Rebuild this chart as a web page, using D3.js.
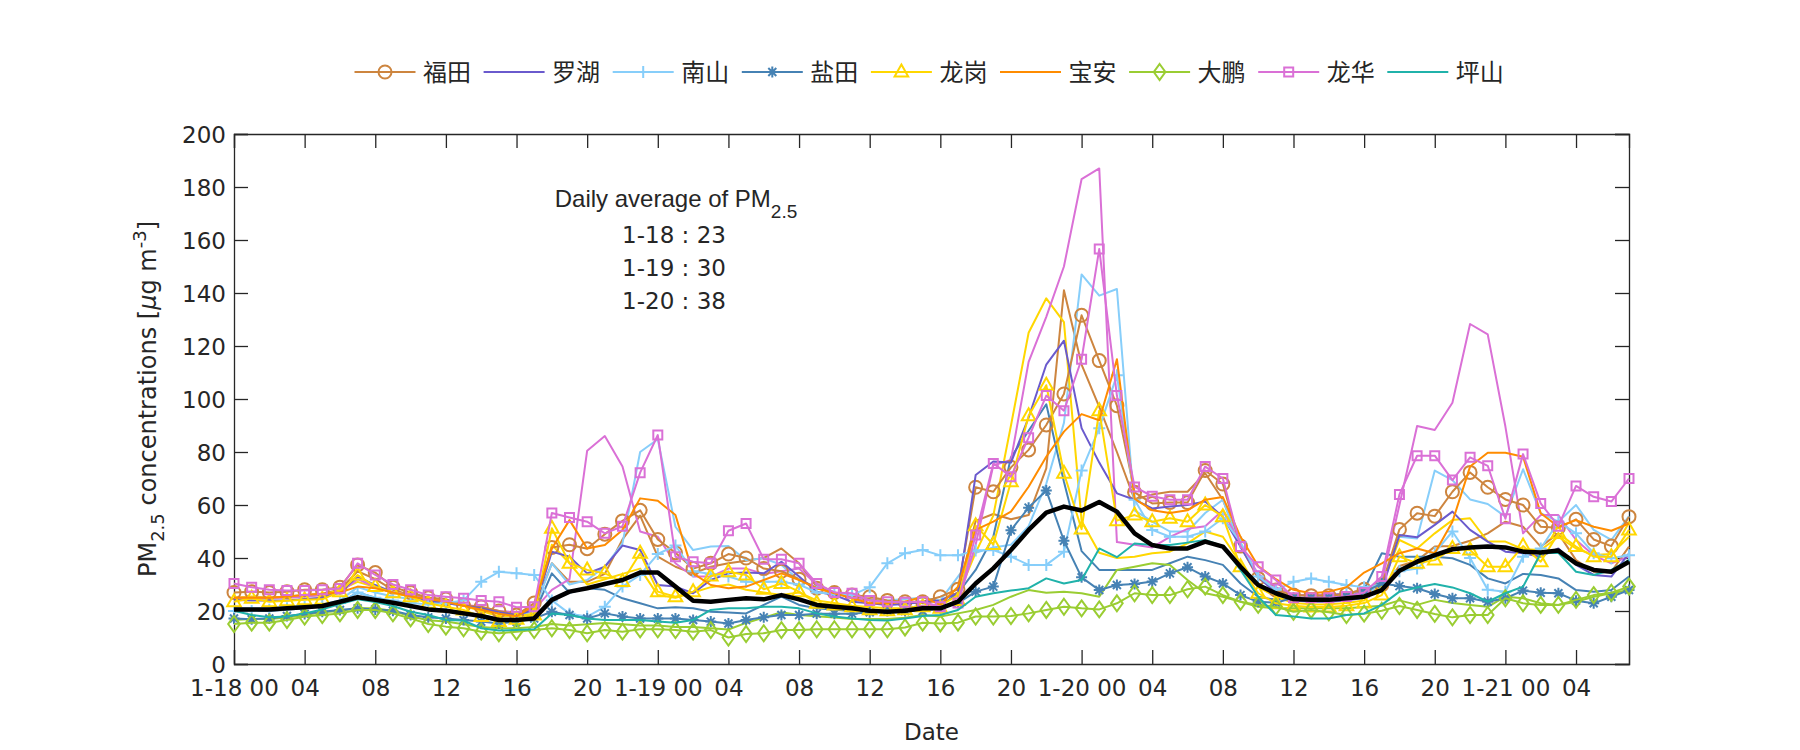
<!DOCTYPE html>
<html><head><meta charset="utf-8">
<script src="https://cdn.jsdelivr.net/npm/d3@7"></script>
<style>
body{margin:0;background:#fff}
svg{display:block}
text{fill:#262626}
</style>
</head><body><svg id="c" width="1800" height="750"></svg>
<script>
// ---------- data ----------
const hours = d3.range(0, 80);
const xTickValues = d3.range(0, 80, 4);
const xTickLabels = ["1-18 00","04","08","12","16","20","1-19 00","04","08","12","16","20","1-20 00","04","08","12","16","20","1-21 00","04"];
const yTickValues = d3.range(0, 201, 20);
const legendNames = ["福田","罗湖","南山","盐田","龙岗","宝安","大鹏","龙华","坪山"];
const dailyLines = ["1-18 : 23","1-19 : 30","1-20 : 38"];

const FT  = [27,27.3,27,27.3,28,28,29,37.4,34.5,29,27,25,24.5,22,21.6,20,18.5,23,
  44,45,43.5,49,54,58,47,42,36,38,41.5,40,36,35,32,28.6,27,26,25.4,24,23.5,23.5,
  25.4,28.2,66.7,65,74.2,80.8,90.2,101.9,131.6,114.5,97.5,64.8,60.6,60.9,60.9,73,67.9,44.5,32.3,27.9,
  26,25.8,25.8,26.4,28.2,29.8,50.8,56.9,55.8,65,72.3,66.7,62.1,60,51.8,51.4,54.6,47,44.5,55.6];
const FT2 = [25,25,25,25.5,26,26.5,28,35,32,28,26,24.5,23.5,22,21,19.5,18,21,
  38,31,31,34,47,56,40.5,36.7,34.2,36.7,38,39,40,43.6,38,29.2,26.7,25.5,24.5,23.5,23,23,
  24,27,54,56.6,54.6,56.2,73.8,141,113,97,80,62,64,65,65,72,62,45,33,28,
  25,25,25,25.5,26,28,37,39,44.3,44.5,46.5,49.3,53.7,51.8,44.3,49.3,39.2,34.8,34.8,44.3];
const LH  = [24.2,24,24,24,24.5,25,27,33,29.8,27,25.5,24,23,22,21,19.5,18.5,20.5,
  42.4,40.5,34.2,36.7,44.7,43,29.8,29.2,26.7,31.7,34.2,34.5,34.2,38.6,33,27.3,26,23.5,22.9,22.3,22.6,23.5,
  24,26.7,71.3,76.4,76,93,113,122,89,76,64.4,62,58.7,59.4,60,61.3,55.6,44.3,33,26.7,
  24,23.5,23.5,24,25,28,48.7,47.8,52.5,57.5,50.6,46.2,42.4,41.8,40.5,43.6,37.4,33.6,33,41.8];
const NS  = [20,20,20.5,21,21.5,22,23,27,25,24,23,22.5,23,24,31,34.8,34.2,33.6,
  24,19,17.9,21.6,29.2,33.6,41.5,44.7,35,34,33,31,31,31,30,27,26.5,26,29,38,41.8,43,
  41,41,42.8,43,40.5,37.4,37.4,42.4,73,89,109,62,50.6,48,48,50,55,46,33,28,
  31,32.3,31,29.8,29,30,35,36,42,50,40,28,27.3,40.5,43.6,53.7,49.3,41.8,39.9,41];
const NS2 = [21,21,21,21.5,22,22.5,24,29,27,25.5,24.5,23.5,23,22,21,19.5,18,20,
  38,30,31.7,36.7,45.5,80,84.8,51.8,43,44.3,44.5,39.2,39.9,37.4,31.7,29,27,25,24,24,24.5,25,
  24,33,42,44,45,52,68,91,147,139,141.5,58,53.7,50,50,57,62,44,33,28,
  26,26,26,26.5,27,29,48,47.4,73,69.4,62.1,60.4,55.6,73.5,56.9,53.7,60,50.6,46.8,55.8];
const YT  = [17.2,16.9,17.2,18.1,18.9,19.7,20.4,21,20.6,20.1,18.5,17.6,17.2,16.6,16,15.3,16,17.2,
  19.7,18.5,17.2,19.1,17.9,17.2,17.2,17.2,16.6,16,15.3,16.6,17.6,18.5,18.5,19,19,19,19.5,20,20,20,
  21,23,27.3,29.2,50.5,59,65.5,46.5,32.7,27.9,29.8,30.2,31.1,34.2,36.5,33,30.4,26,23.5,23.1,
  25,25,25,25.5,27,30.4,29.4,28.6,26.4,24.8,24.8,23.5,24.8,27.7,26.9,26.7,23.9,22.9,25.4,27.9];
const YT2 = [20,20,20,20.5,21,22,23,27,25,23.5,22,21,20.5,19.5,18.5,17,16.5,19,
  34.2,26.9,28.6,28,24.8,22.9,21,21.4,21,19.7,19.4,19.1,22.3,25.4,22.3,21,20.5,20,20,20,21,22,
  22,26.7,35.5,48,78,88,98,68.8,42.6,35.5,35.5,35.5,35.5,38,40.5,39.2,37.4,30.4,25.4,24.2,
  26,26,26,26.5,28,41.8,40.5,40.5,40.5,39.9,37.4,32.3,30.4,34,33.6,32.3,27.9,27.3,27.9,33];
const LG  = [23.5,24.8,23.5,23.9,24.2,24.4,27.3,33.6,29.2,26.9,25.4,22.9,21.6,20.4,17.9,16,16.9,18.5,
  51.2,38,35.5,34.2,31.1,41.8,27.3,25.4,27.3,33.2,34.8,33.6,28.2,30.4,27.3,22.9,22.3,21.6,20.5,20.1,20.5,21.6,
  21,24,52.2,45.1,68.8,93.7,105.2,72,50.9,95.6,54.1,56.2,53.7,55,53.7,60,55.6,36.7,26.7,22.9,
  22,21.5,21.5,22,23,26,40.5,38,39.2,43.6,43,36.7,36.7,44.5,38.6,49.3,44.3,40.5,40.5,50.6];
const LG2 = [25,25.5,25,25,25.5,26,28,31,29,27,26,24.5,23.5,22,20,18,18,19,
  45,38,30,32,34,36,26,25,27,29,30,28,27,26,27,24,23,22,21.5,21,21,22,
  22,26,42,56,90,125,138,129,54,42,40,40.5,41.8,42.4,45.5,50,48,38,29,25.4,
  23,22.5,22.5,23,24,30,46.8,43.6,49.3,54.3,55,46.2,46.2,43.3,43,48,43.6,41.1,41.5,48];
const BA  = [25,25,25,25.5,26,26.5,27,29.2,28.6,27,25.5,24.5,23.5,22,20.5,19,18,22,
  43.6,54.3,43.6,44.9,50.6,62.5,61.6,56.2,34.2,29.8,28.6,29.2,31.7,34.2,31.7,28.6,26.7,24.8,22.9,22.9,23.5,25.4,
  22.3,29.2,50.6,53.7,57.5,66.9,78.2,87.7,94.3,92,115,62.4,58,57,58,62,63,48,37,32,
  28,26.7,27.3,29,34.5,38,41.8,43.6,41.8,53.7,74.5,79.7,79.7,78.2,56.9,51.8,54.3,51.8,50.3,53];
const DP  = [15.1,15.6,15.6,16.6,17.9,18.5,19.1,20.4,20.4,19.1,17.2,15.1,14.1,13.5,12.2,11.6,12.2,12.8,
  13.5,12.8,11.6,12.8,12.2,13.1,13.1,12.8,12.2,12.8,10,11.3,11.6,12.8,12.8,13.1,13.1,13.1,13.1,13.1,13.8,15.6,
  15.3,15.6,17.9,17.9,18.1,19.1,20.4,21.6,21,20.6,22.9,26.7,26,26,28.2,29.2,26,23.5,22.3,21.6,
  19.7,20.4,19.5,18.5,19,20.1,21.9,20.4,18.9,17.6,18.5,18.5,24.8,22.9,22.3,22.3,24.2,26,26.9,29.2];
const DP2 = [16.6,17,17,17.5,18.5,19.5,20,21,21,20,18,16.5,16,15,14,13.5,13.5,14,
  15.1,14.5,15,15.5,15,14.5,14.5,14,14,13.5,13,15.5,17.5,19.5,18.5,18,17.5,17,17,17,17.5,18.5,
  17.9,19.1,20.4,22.3,25.4,27.9,26.9,27.3,26.7,25.4,35.5,36.7,38,37.4,31.7,26.7,25.4,23.5,21.6,21,
  21,21,21,21,21.5,22,24,22.3,24.2,23,22.3,21.6,25.4,24.8,22.9,22.3,23.5,25.4,26.7,27.9];
const LHua  = [30.4,29,28,27.7,27.7,28,28.5,38,33.6,30,28,26,25.4,24.8,24,23.5,21.4,21.6,
  57,55.3,53.7,49.3,52,72.2,86.4,40.5,38.6,38,50.3,53,39.5,39.5,38,30.4,27,26.7,24,23.5,23.3,23.5,
  21.6,23,48.7,75.7,70.7,85.4,101.3,95.6,115,156.6,101.3,66.8,63.3,62,62,74.5,70,44.3,36.7,31.7,
  25,25,25,25.5,27,33,64,78.6,78.6,69.4,78,74.8,54.8,79.2,60.6,52,67.2,63.1,61.3,70];
const LHua2 = [25,25,25,25,25.5,26,27,32,29,27,26,24.5,23.5,22.5,21.5,20,19.5,20.5,
  28,32,80.5,86,74.5,50,48,38,33,33,36,36,34,35,36,30,27,25,24,23.5,23,23.5,
  21,23,45,75,77,114,131,150,183,187,46,45,44,48,51,52,58,45,34,29,
  26,26,26,26.5,28,31,60,89.8,88.3,98.6,128.3,124.4,89.6,49.3,56.2,56.2,46.8,41,38,40.5];
const PS  = [20.1,18.5,17.6,17.9,19.1,20.6,22.6,24.4,23.4,21.9,19.7,18.5,16.6,16.4,13.5,12.6,12.8,13.1,
  19.1,18.5,17.2,16.6,16.6,16.6,16,15.6,16.6,20.4,21,21,21.6,21.6,21,19.1,17.9,17.2,16.6,16.4,17.2,18.1,
  18.5,20.4,25.4,26.7,27.7,28.6,32.3,30.4,31.7,43.6,40.3,45.5,44.9,44.9,45.8,46.8,44.5,35.5,25.4,18.5,
  17.9,17.2,17.2,18.5,19.1,22.3,27.3,28.9,30.2,28.9,26.7,23.5,26.7,29.2,41.8,42,34.8,33.6,35.5,39.2];
const AVG = [20.6,20.6,20.6,21,21.4,21.9,23.5,25.2,24.2,23.1,21.9,20.6,20.1,19.1,18.1,16.6,16.6,17.2,
  24.2,27.3,28.6,30.2,31.7,34.5,34.5,29.2,23.9,23.5,24.2,24.8,24.4,26,24.4,22.3,21.6,21,20.1,19.7,20.1,21,
  21,23.5,30.4,36.1,43,50.6,57.1,59.4,57.9,61.1,57.5,49.3,44.9,43.6,43.6,46.2,44.3,36.7,29.8,26.7,
  24.5,24.2,24.2,24.8,25.4,27.9,35.2,38.6,41.1,43.3,44,44.3,44,42.4,42.1,42.8,38,35.5,34.8,38.6];

// ---------- styles ----------
const C = {FT:"#CD853F", LH:"#6A5ACD", NS:"#87CEFA", YT:"#4682B4", LG:"#FFD700",
           BA:"#FF8C00", DP:"#9ACD32", LHua:"#DA70D6", PS:"#20B2AA"};
const series = [
  {d:FT2, c:C.FT, m:null}, {d:NS2, c:C.NS, m:null}, {d:YT2, c:C.YT, m:null},
  {d:LG2, c:C.LG, m:null}, {d:DP2, c:C.DP, m:null}, {d:LHua2, c:C.LHua, m:null},
  {d:FT, c:C.FT, m:"circle"}, {d:LH, c:C.LH, m:null}, {d:NS, c:C.NS, m:"plus"},
  {d:YT, c:C.YT, m:"star"}, {d:LG, c:C.LG, m:"tri"}, {d:BA, c:C.BA, m:null},
  {d:DP, c:C.DP, m:"diamond"}, {d:LHua, c:C.LHua, m:"square"}, {d:PS, c:C.PS, m:null}
];
const legendItems = [
  {c:C.FT,m:"circle"},{c:C.LH,m:null},{c:C.NS,m:"plus"},{c:C.YT,m:"star"},{c:C.LG,m:"tri"},
  {c:C.BA,m:null},{c:C.DP,m:"diamond"},{c:C.LHua,m:"square"},{c:C.PS,m:null}
];

const markerPath = {
  circle: "M6.5,0A6.5,6.5 0 1,1 -6.5,0A6.5,6.5 0 1,1 6.5,0Z",
  square: "M-4.5,-4.5H4.5V4.5H-4.5Z",
  tri: "M0,-7.5L6.8,4.5H-6.8Z",
  diamond: "M0,-8L5.8,0L0,8L-5.8,0Z",
  plus: "M-6,0H6M0,-6V6",
  star: "M-5.5,0H5.5M0,-5.5V5.5M-4,-4L4,4M-4,4L4,-4"
};

// ---------- layout ----------
const svg = d3.select("#c");
const L = 234, R = 1629, T = 134, B = 664;
const x = d3.scaleLinear().domain([0, 79]).range([L, R]);
const y = d3.scaleLinear().domain([0, 200]).range([B, T]);
const axisColor = "#262626";
const tickFont = "'DejaVu Sans', sans-serif";

const gx = svg.append("g").attr("transform", `translate(0,${B})`)
  .call(d3.axisBottom(x).tickValues(xTickValues).tickSize(-14).tickPadding(10)
    .tickFormat((d, i) => xTickLabels[i]));
const gxt = svg.append("g").attr("transform", `translate(0,${T})`)
  .call(d3.axisTop(x).tickValues(xTickValues).tickSize(-14).tickFormat(""));
const gy = svg.append("g").attr("transform", `translate(${L},0)`)
  .call(d3.axisLeft(y).tickValues(yTickValues).tickSize(-14).tickPadding(8));
const gyr = svg.append("g").attr("transform", `translate(${R},0)`)
  .call(d3.axisRight(y).tickValues(yTickValues).tickSize(-14).tickFormat(""));
[gx, gxt, gy, gyr].forEach(g => {
  g.select(".domain").attr("stroke", axisColor).attr("stroke-width", 1.3);
  g.selectAll(".tick line").attr("stroke", axisColor).attr("stroke-width", 1.3);
  g.selectAll(".tick text").attr("fill", axisColor).style("font-family", tickFont).style("font-size", "23px");
});
gx.selectAll(".tick text").attr("dy", "0.95em");
gy.selectAll(".tick text").attr("dy", "0.36em");

const plot = svg.append("g");
const line = d3.line().x((d, i) => x(hours[i])).y(d => y(d));

function drawMarkers(g, s) {
  g.selectAll("path.mk").data(s.d).enter().append("path")
    .attr("class","mk")
    .attr("transform", (d, i) => `translate(${x(hours[i])},${y(d)})`)
    .attr("d", markerPath[s.m])
    .attr("fill", "none").attr("stroke", s.c).attr("stroke-width", 2);
}
series.forEach(s => {
  const g = plot.append("g");
  g.append("path").attr("d", line(s.d)).attr("fill","none")
    .attr("stroke", s.c).attr("stroke-width", 2).attr("stroke-linejoin","round");
  if (s.m) drawMarkers(g, s);
});
plot.append("path").attr("d", line(AVG)).attr("fill","none")
  .attr("stroke", "#000").attr("stroke-width", 4.5).attr("stroke-linejoin","round");

svg.append("text").attr("x", (L+R)/2).attr("y", 740).attr("text-anchor","middle")
  .style("font-family", tickFont).style("font-size","23px").text("Date");
const yl = svg.append("text").attr("transform", `translate(156,${(T+B)/2}) rotate(-90)`)
  .attr("text-anchor","middle").style("font-family", tickFont).style("font-size","24px");
yl.append("tspan").text("PM");
yl.append("tspan").attr("dy", 8).style("font-size","18px").text("2.5");
yl.append("tspan").attr("dy", -8).text(" concentrations [");
yl.append("tspan").style("font-style","italic").text("μ");
yl.append("tspan").text("g m");
yl.append("tspan").attr("dy", -10).style("font-size","18px").text("-3");
yl.append("tspan").attr("dy", 10).text("]");

const ann = svg.append("text").attr("x", 676).attr("y", 207).attr("text-anchor","middle")
  .style("font-family","'Liberation Sans', Arial, sans-serif").style("font-size","24px");
ann.append("tspan").text("Daily average of PM");
ann.append("tspan").attr("dy", 11).style("font-size","19px").text("2.5");
dailyLines.forEach((t, i) => {
  svg.append("text").attr("x", 674).attr("y", 243 + i*33).attr("text-anchor","middle")
    .style("font-family", tickFont).style("font-size","23px").text(t);
});

const lg = svg.append("g");
legendItems.forEach((it, i) => {
  const x0 = 354.5 + i*129.1, yc = 72;
  const g = lg.append("g");
  g.append("line").attr("x1", x0).attr("x2", x0+61).attr("y1", yc).attr("y2", yc)
    .attr("stroke", it.c).attr("stroke-width", 2);
  if (it.m) g.append("path").attr("transform", `translate(${x0+30.5},${yc})`)
    .attr("d", markerPath[it.m]).attr("fill","none").attr("stroke", it.c).attr("stroke-width", 2);
  g.append("text").attr("x", x0+68.5).attr("y", yc).attr("dy","0.36em")
    .style("font-family","'Noto Sans CJK SC', sans-serif").style("font-size","24px")
    .text(legendNames[i]);
});
</script></body></html>
